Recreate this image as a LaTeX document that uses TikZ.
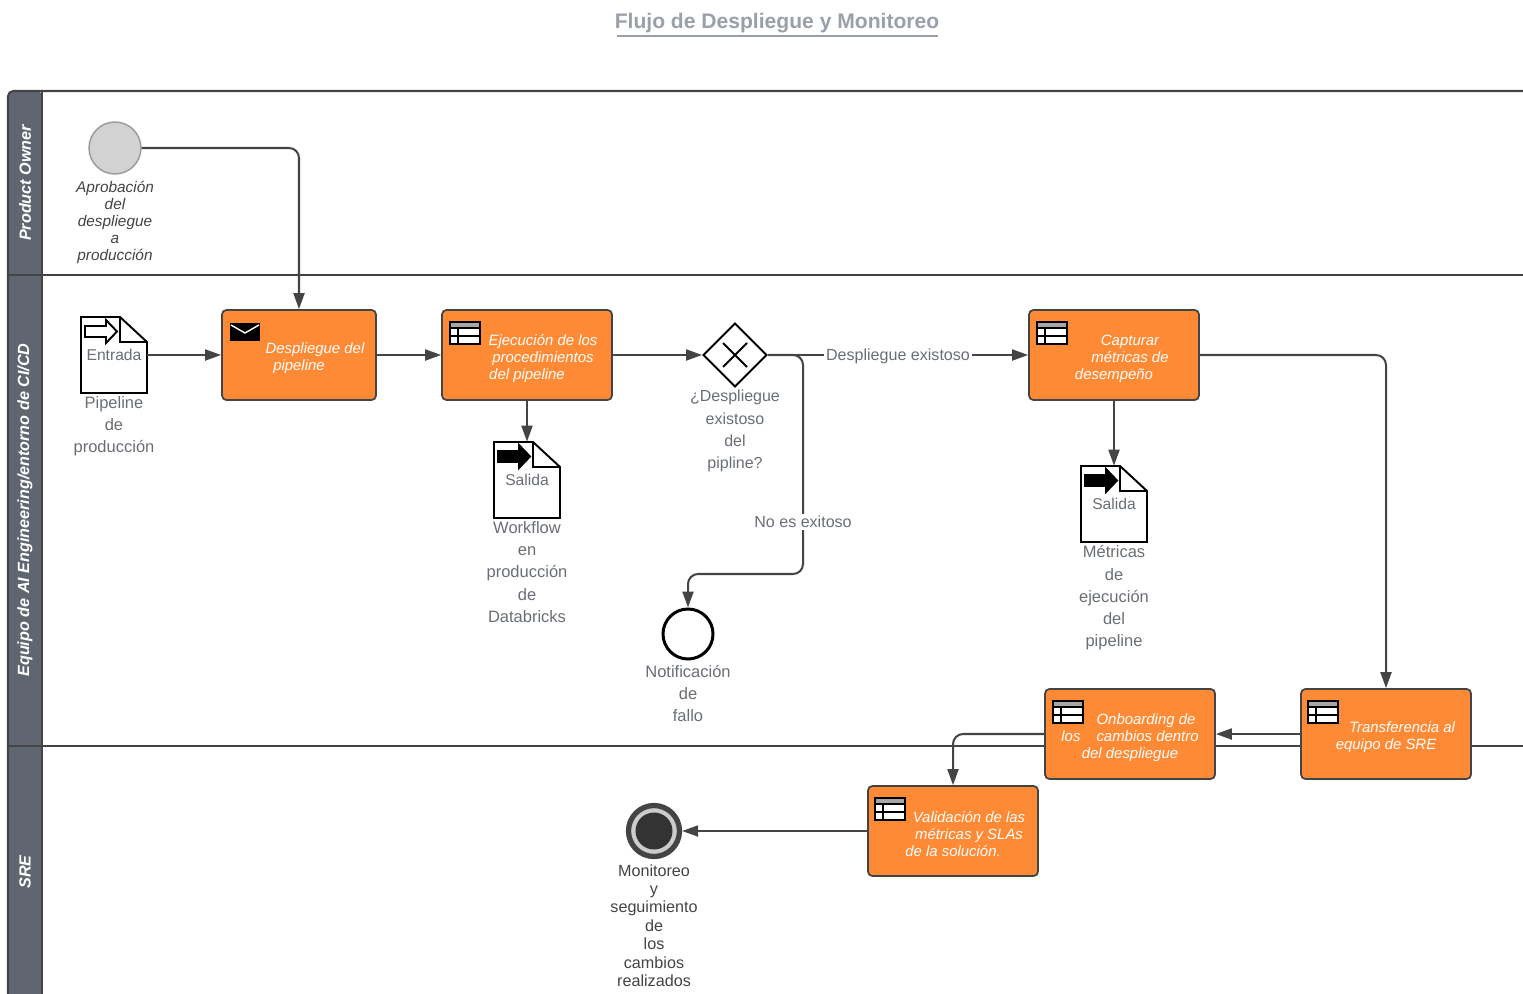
\documentclass[tikz,border=0pt]{standalone}
\usepackage{fontspec}
\setmainfont{Liberation Sans}
\usetikzlibrary{arrows.meta,positioning,shapes.geometric}

\definecolor{lanegray}{HTML}{5F6670}
\definecolor{lineink}{HTML}{444444}
\definecolor{taskfill}{HTML}{FF8A35}
\definecolor{labelgray}{HTML}{6A6F75}
\definecolor{titlegray}{HTML}{9AA0A9}

\newcommand{\shiftline}{\hspace*{.64cm}}
\newcommand{\firstline}{\rule{0pt}{10pt}\shiftline}

\tikzset{
	flow/.style={draw=lineink,line width=1.15pt,rounded corners=5.7pt,-{Triangle[length=.32cm,width=.22cm]}},
	laneline/.style={draw=lineink,line width=1.15pt},
	lanetitle/.style={rotate=90,text=white,font=\fontsize{9.2}{10}\selectfont\bfseries\itshape},
	task/.style={draw=lineink,line width=1pt,fill=taskfill,rounded corners=2.5pt,minimum height=1.8cm,minimum width=3.4cm,inner sep=0pt,align=center,text=white,font=\fontsize{8.5}{9.7}\selectfont\itshape},
	docbox/.style={minimum width=1.32cm,minimum height=1.52cm,inner sep=0pt,text=labelgray,font=\fontsize{8.9}{10}\selectfont},
	underlabel/.style={inner sep=0pt,align=center,text=labelgray,font=\fontsize{9.4}{12.6}\selectfont},
	flowlabel/.style={inner sep=1pt,fill=white,text=labelgray,font=\fontsize{9.15}{10}\selectfont},
	tableicon/.pic={
		\draw[black,line width=1pt,fill=white] (-15,-11) rectangle (15,11);
		\fill[gray!70] (-14,-10) rectangle (14,-5);
		\draw[black,line width=.8pt] (-15,-5) -- (15,-5) (-15,3) -- (15,3) (-7,-5) -- (-7,11);
	},
	docoutline/.pic={
		\draw[black,line width=1.1pt,line join=miter] (-33,-38) -- (6,-38) -- (33,-13) -- (33,38) -- (-33,38) -- cycle;
		\draw[black,line width=1.1pt] (6,-38) -- (6,-13) -- (33,-13);
	},
	pics/docarrow/.style={code={
		\draw[draw=black,fill=#1,line width=1.1pt] (-29,-29) -- (-8,-29) -- (-8,-35) -- (3,-23.5) -- (-8,-12) -- (-8,-18) -- (-29,-18) -- cycle;
	}},
}

\begin{document}
\begin{tikzpicture}[x=.02cm,y=-.02cm]
	\useasboundingbox (0,0) rectangle (1523,993);
	\clip (0,0) rectangle (1523,993);
	\fill[white] (0,0) rectangle (1523,993);

	% title
	\node[inner sep=1pt,text=titlegray,font=\fontsize{12}{14}\selectfont\bfseries] (title) at (777,23) {Flujo de Despliegue y Monitoreo};
	\draw[titlegray,line width=.8pt] (617,36) -- (938,36);

	% lanes
	\fill[lanegray,rounded corners=3pt] (8,91) rectangle (42,1100);
	\draw[laneline,rounded corners=3pt] (1600,91) -- (8,91) -- (8,1100);
	\draw[laneline] (42,91) -- (42,1100);
	\foreach \y in {275,746}
	\draw[laneline] (8,\y) -- (1523,\y);
	\node[lanetitle] (laneowner) at (25,183) {Product Owner};
	\node[lanetitle] (laneeng) at (25,510) {Equipo de AI Engineering/entorno de CI/CD};
	\node[lanetitle] (lanesre) at (25,872) {SRE};

	% tasks
	\node[task,minimum width=3.08cm] (despliegue) at (299,355) {\firstline Despliegue del\\pipeline};
	\node[task] (ejecucion) at (527,355) {\firstline Ejecución de los\\\shiftline procedimientos\\del pipeline};
	\node[task] (capturar) at (1114,355) {\firstline Capturar\\\shiftline métricas de\\desempeño};
	\node[task] (transferencia) at (1386,734) {\firstline Transferencia al\\equipo de SRE};
	\node[task] (onboarding) at (1130,734) {\firstline Onboarding de\\los\hspace{.32cm}cambios dentro\\del despliegue};
	\node[task] (validacion) at (953,831) {\firstline Validación de las\\\shiftline métricas y SLAs\\de la solución.};

	\foreach \x/\y in {465/333,1052/333,1068/712,1323/712,890/809}
	\pic at (\x,\y) {tableicon};
	\fill[black] (230,323) rectangle (260,341);
	\draw[white,line width=.8pt] (231,325) -- (245,333) -- (259,325);

	% events and gateway
	\node[circle,draw=gray!80,line width=.8pt,fill=gray!35,minimum size=1.04cm,inner sep=0pt] (start) at (115,148) {};
	\node[diamond,draw=black,line width=1.1pt,fill=white,minimum size=1.28cm,inner sep=0pt] (gateway) at (735,355) {};
	\draw[black,line width=1.1pt] (723,343) -- (747,367) (723,367) -- (747,343);
	\node[circle,draw=black,line width=1.7pt,fill=white,minimum size=1cm,inner sep=0pt] (notif) at (688,634) {};
	\node[circle,draw=lineink,line width=3pt,fill=gray!40,minimum size=1.02cm,inner sep=0pt] (finish) at (654,831) {};
	\node[circle,fill=black!80,minimum size=.74cm,inner sep=0pt] (finishcore) at (654,831) {};

	% documents
	\node[docbox] (entrada) at (114,355) {Entrada};
	\node[docbox] (salidaflow) at (527,480) {Salida};
	\node[docbox] (salidametric) at (1114,504) {Salida};
	\pic at (114,355) {docoutline};
	\pic at (527,480) {docoutline};
	\pic at (1114,504) {docoutline};
	\pic at (114,355) {docarrow=white};
	\pic at (527,480) {docarrow=black};
	\pic at (1114,504) {docarrow=black};

	% labels
	\node[underlabel,below=.12cm of start,font=\fontsize{8.75}{9.75}\selectfont\itshape,text=lineink] (startlabel) {Aprobación\\del\\despliegue\\a\\producción};
	\node[underlabel,below=.06cm of entrada] (entradalabel) {Pipeline\\de\\producción};
	\node[underlabel,below=.06cm of salidaflow] (flowlabel) {Workflow\\en\\producción\\de\\Databricks};
	\node[underlabel,below=.06cm of salidametric] (metriclabel) {Métricas\\de\\ejecución\\del\\pipeline};
	\node[underlabel,anchor=north,font=\fontsize{9.1}{12.6}\selectfont] (gatewaylabel) at (735,390) {¿Despliegue\\existoso\\del\\pipline?};
	\node[underlabel,below=.08cm of notif] (notiflabel) {Notificación\\de\\fallo};
	\node[underlabel,below=.1cm of finish,font=\fontsize{9.2}{10.45}\selectfont,text=lineink] (finishlabel) {Monitoreo\\y\\seguimiento\\de\\los\\cambios\\realizados};

	% connectors
	\coordinate (nofork) at (803,574);
	\draw[flow] (start.east) -| (despliegue.north);
	\draw[flow] (entrada.east) -- (despliegue.west);
	\draw[flow] (despliegue.east) -- (ejecucion.west);
	\draw[flow] (ejecucion.east) -- (gateway.west);
	\draw[flow] (ejecucion.south) -- (salidaflow.north);
	\draw[flow] (gateway.east) -- (capturar.west);
	\draw[flow] (gateway.east) -| (nofork) -| (notif.north);
	\draw[flow] (capturar.south) -- (salidametric.north);
	\draw[flow] (capturar.east) -| (transferencia.north);
	\draw[flow] (transferencia.west) -- (onboarding.east);
	\draw[flow] (onboarding.west) -| (validacion.north);
	\draw[flow] (validacion.west) -- (finish.east);
	\node[flowlabel] (oklabel) at (898,356.5) {Despliegue existoso};
	\node[flowlabel] (faillabel) at (803,522) {No es exitoso};
\end{tikzpicture}
\end{document}
